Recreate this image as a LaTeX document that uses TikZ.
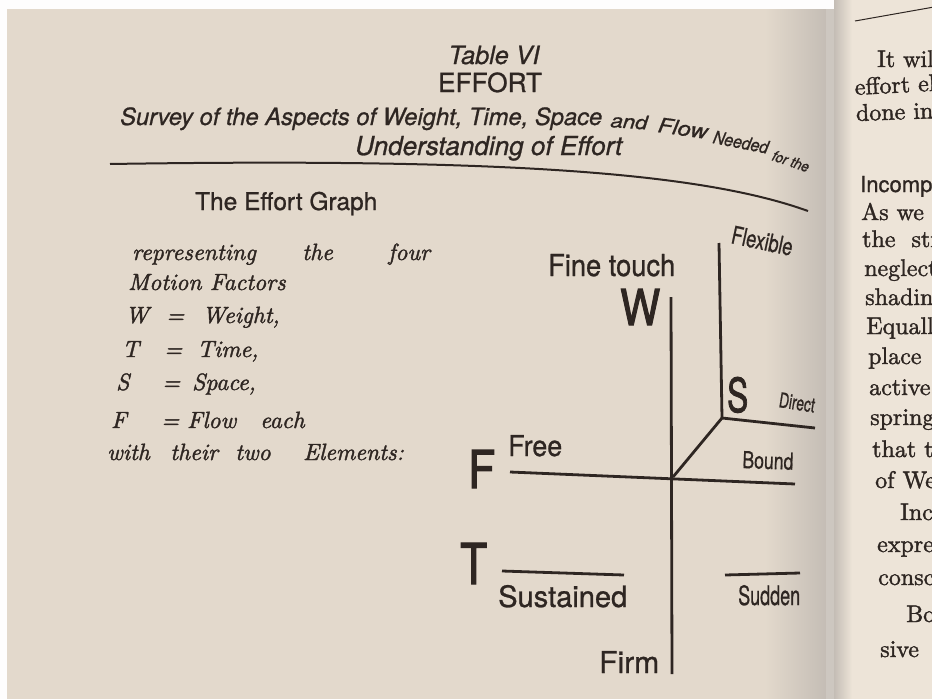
\documentclass[tikz,border=0pt]{standalone}
\usepackage{fontspec}
\usepackage{graphicx}
\newfontfamily\hsans[FakeBold=0.9]{TeX Gyre Heros}
\newfontfamily\hsansbig[FakeBold=2.2]{TeX Gyre Heros}
\newfontfamily\serit[Extension=.otf, FakeBold=1.6]{lmroman10-italic}
\newfontfamily\serup[Extension=.otf, FakeBold=1.6]{lmroman10-regular}
\newcommand{\fit}[2]{\resizebox{#1pt}{!}{#2}}
\newcommand{\fitwh}[3]{\resizebox{#1pt}{#2pt}{#3}}
\definecolor{inkc}{RGB}{46,38,34}
\definecolor{lpage}{RGB}{227,217,204}
\definecolor{rpage}{RGB}{237,228,216}
\definecolor{gutter}{RGB}{196,189,181}
\tikzset{
  ttl/.style={inner sep=0pt, text=inkc, font=\hsans\itshape},
  lbl/.style={inner sep=0pt, anchor=base west, text=inkc, font=\hsans},
  big/.style={inner sep=0pt, anchor=base west, text=inkc, font=\hsansbig},
  ser/.style={inner sep=0pt, anchor=base west, text=inkc, font=\serit\fontsize{23.5}{27}\selectfont},
  rp/.style={inner sep=0pt, anchor=base west, text=inkc, font=\serup\fontsize{24}{28}\selectfont},
  axis/.style={draw=inkc, line width=2.8pt},
  rulel/.style={draw=inkc, line width=2pt},
}
\begin{document}
\begin{tikzpicture}[x=1pt,y=-1pt]
\useasboundingbox (0,0) rectangle (932,699);
% paper
\fill[white!96!lpage] (0,0) rectangle (932,699);
\fill[lpage] (7,9) rectangle (836,699);
\shade[left color=lpage, right color=gutter] (765,9) rectangle (826,699);
\fill[gutter!85!white] (826,9) rectangle (834,699);
\shade[left color=gutter, right color=rpage] (834,0) rectangle (852,699);
\fill[rpage] (852,0) rectangle (932,699);

% title
\node[ttl, anchor=base] (tab) at (494,64) {\fit{91}{Table VI}};
\node[lbl, anchor=base] (eff) at (490,92) {\fit{104}{EFFORT}};
\node[ttl, anchor=base west] (sur1) at (120,125) {\fit{482}{Survey of the Aspects of Weight, Time, Space}};
\node[ttl, anchor=base west, rotate=-4] (sur2) at (610,127) {\fitwh{37}{14}{and}};
\node[ttl, anchor=base west, rotate=-8] (sur3) at (657,132) {\fitwh{50}{15}{Flow}};
\node[ttl, anchor=base west, rotate=-11] (sur4) at (712,143) {\fitwh{56}{13}{Needed}};
\node[ttl, anchor=base west, rotate=-19] (sur5) at (771,160) {\fitwh{38}{11}{for the}};
\node[ttl, anchor=base west] (und) at (355,155) {\fit{267}{Understanding of Effort}};
\coordinate (r1) at (110,164);
\coordinate (r2) at (808,211);
\draw[rulel] (r1) .. controls (500,158) and (700,172) .. (r2);

% left text
\node[lbl] (graph) at (195,210) {\fit{182}{The Effort Graph}};
\node[ser] (l1a) at (132,260) {representing};
\node[ser] (l1b) at (302,260) {the};
\node[ser] (l1c) at (388,260) {four};
\node[ser] (l2) at (128,290) {Motion Factors};
\node[ser] (l3a) at (125,323) {W};
\node[ser] (l3b) at (166,323) {=};
\node[ser] (l3c) at (202,323) {Weight,};
\node[ser] (l4a) at (122,357) {T};
\node[ser] (l4b) at (164,357) {=};
\node[ser] (l4c) at (197,357) {Time,};
\node[ser] (l5a) at (116,390) {S};
\node[ser] (l5b) at (162,390) {=};
\node[ser] (l5c) at (192,390) {Space,};
\node[ser] (l6a) at (111,428) {F};
\node[ser] (l6b) at (161,428) {=};
\node[ser] (l6c) at (187,428) {Flow};
\node[ser] (l6d) at (260,428) {each};
\node[ser] (l7a) at (107,460) {with};
\node[ser] (l7b) at (170,460) {their};
\node[ser] (l7c) at (235,460) {two};
\node[ser] (l7d) at (303,460) {Elements:};

% graph letters and labels
\node[big] (W) at (620,325) {\fitwh{40}{36}{W}};
\node[big] (S) at (727,412) {\fitwh{21}{35}{S}};
\node[big] (F) at (468,488) {\fitwh{27}{38}{F}};
\node[big] (T) at (460,584) {\fitwh{27}{41}{T}};
\node[lbl] (fine) at (548,276) {\fitwh{127}{22}{Fine touch}};
\node[lbl, rotate=-12] (flex) at (730,243) {\fitwh{62}{18}{Flexible}};
\node[lbl, rotate=-9] (direct) at (778,407) {\fitwh{36}{15}{Direct}};
\node[lbl] (free) at (508,456) {\fitwh{54}{21}{Free}};
\node[lbl, rotate=-2] (bound) at (742,468) {\fitwh{51}{17}{Bound}};
\node[lbl] (sust) at (498,607) {\fitwh{129}{22}{Sustained}};
\node[lbl] (sudd) at (738,605) {\fitwh{62}{20}{Sudden}};
\node[lbl] (firm) at (599,673) {\fitwh{60}{22}{Firm}};

% axes
\coordinate (wtop) at (671,297);
\coordinate (wbot) at (672,674);
\coordinate (stop) at (719,243);
\coordinate (sfoot) at (722,418);
\coordinate (dend) at (815,428);
\coordinate (orig) at (673,477);
\coordinate (fl) at (510,472);
\coordinate (fr) at (795,484);
\coordinate (tl1) at (502,571);
\coordinate (tl2) at (624,575);
\coordinate (tr1) at (725,575);
\coordinate (tr2) at (800,573);
\draw[axis] (wtop) -- (wbot);
\draw[axis] (stop) -- (sfoot) -- (dend);
\draw[axis] (sfoot) -- (orig);
\draw[axis] (fl) -- (fr);
\draw[axis] (tl1) -- (tl2);
\draw[axis] (tr1) -- (tr2);

% right page (text runs off the photo's edge)
\coordinate (rl1) at (855,21);
\coordinate (rl2) at (934,7);
\draw[draw=inkc, line width=1pt] (rl1) -- (rl2);
\begin{scope}
\clip (834,0) rectangle (932,699);
\node[rp] (p1) at (877,67) {It wil};
\node[rp, rotate=3] (p2) at (855,95) {effort el};
\node[rp, rotate=2] (p3) at (856,121) {done in};
\node[rp, font=\hsans\fontsize{22}{26}\selectfont] (p4) at (860,192) {Incomp};
\node[rp] (p5) at (861,220) {As we l};
\node[rp] (p6) at (862,247) {the \ str};
\node[rp] (p7) at (864,276) {neglect};
\node[rp] (p8) at (865,305) {shading};
\node[rp] (p9) at (866,334) {Equally};
\node[rp] (p10) at (868,364) {place \ o};
\node[rp] (p11) at (869,395) {active.};
\node[rp] (p12) at (870,425) {spring};
\node[rp] (p13) at (872,457) {that th};
\node[rp] (p14) at (875,488) {of We};
\node[rp] (p15) at (900,520) {Inc};
\node[rp] (p16) at (877,552) {expre};
\node[rp] (p17) at (878,585) {consc};
\node[rp] (p18) at (906,622) {Bo};
\node[rp] (p19) at (880,657) {sive \ c};
\end{scope}
\end{tikzpicture}
\end{document}
